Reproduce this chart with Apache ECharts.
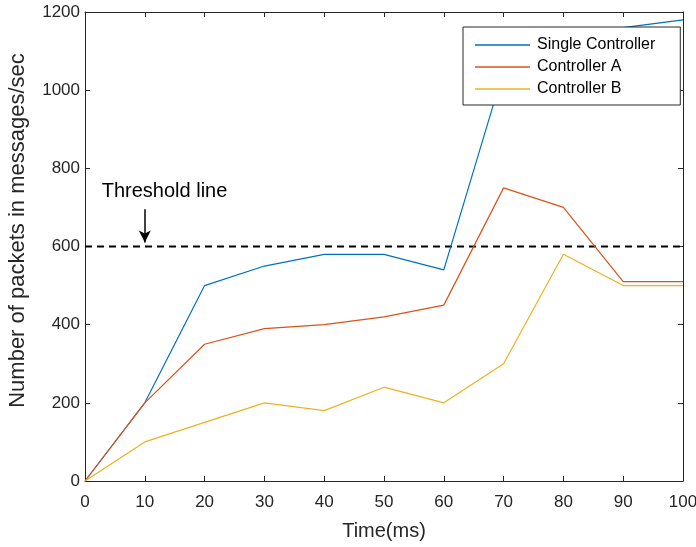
<!DOCTYPE html>
<html>
<head>
<meta charset="utf-8">
<script src="https://cdn.jsdelivr.net/npm/echarts@6/dist/echarts.min.js"></script>
<style>html,body{margin:0;padding:0;background:#fff;}#c{width:696px;height:547px;}</style>
</head>
<body>
<div id="c"></div>
<script>
var times = [0, 10, 20, 30, 40, 50, 60, 70, 80, 90, 100];
var singleController = [0, 200, 500, 550, 580, 580, 540, 1050, 1120, 1160, 1180];
var controllerA = [0, 200, 350, 390, 400, 420, 450, 750, 700, 510, 510];
var controllerB = [0, 100, 150, 200, 180, 240, 200, 300, 580, 500, 500];
var thresholdValue = 600;
var xTicks = [0, 10, 20, 30, 40, 50, 60, 70, 80, 90, 100];
var yTicks = [0, 200, 400, 600, 800, 1000, 1200];

function pairs(xs, ys) { return xs.map(function (x, i) { return [x, ys[i]]; }); }

var font = 'Liberation Sans, Arial, sans-serif';
var axisColor = '#262626';
var chart = echarts.init(document.getElementById('c'), null, { renderer: 'canvas' });

var baseAxis = {
  axisLine: { show: true, onZero: false, lineStyle: { color: axisColor, width: 1 } },
  axisTick: { show: true, inside: true, length: 5, lineStyle: { color: axisColor } },
  splitLine: { show: false }
};

chart.setOption({
  animation: false,
  grid: { left: 85, right: 13, top: 12, bottom: 66, outerBoundsMode: 'none', containLabel: false },
  legend: {
    orient: 'vertical',
    left: 463, top: 27,
    padding: [10, 25, 8, 12],
    itemGap: 6,
    itemWidth: 55,
    itemHeight: 1.5,
    icon: 'rect',
    borderColor: axisColor, borderWidth: 1,
    backgroundColor: '#fff',
    textStyle: { fontFamily: font, fontSize: 16, color: '#000', padding: [0, 0, 0, 2], lineHeight: 16 },
    data: ['Single Controller', 'Controller A', 'Controller B']
  },
  xAxis: [
    Object.assign({}, baseAxis, {
      type: 'value', min: 0, max: 100, interval: 10,
      name: 'Time(ms)', nameLocation: 'middle', nameGap: 40,
      nameTextStyle: { fontFamily: font, fontSize: 20, color: axisColor },
      axisLabel: { fontFamily: font, fontSize: 17, color: axisColor, margin: 13,
        formatter: function (v) { return xTicks.indexOf(v) >= 0 ? String(v) : ''; } }
    }),
    Object.assign({}, baseAxis, {
      type: 'value', min: 0, max: 100, interval: 10, position: 'top',
      axisLabel: { show: false }
    })
  ],
  yAxis: [
    Object.assign({}, baseAxis, {
      type: 'value', min: 0, max: 1200, interval: 200,
      name: 'Number of packets in messages/sec', nameLocation: 'middle', nameGap: 56,
      nameTextStyle: { fontFamily: font, fontSize: 22, color: axisColor, padding: [0, 0, 0, 32] },
      axisLabel: { fontFamily: font, fontSize: 17, color: axisColor, margin: 5,
        formatter: function (v) { return yTicks.indexOf(v) >= 0 ? String(v) : ''; } }
    }),
    Object.assign({}, baseAxis, {
      type: 'value', min: 0, max: 1200, interval: 200, position: 'right',
      axisLabel: { show: false }
    })
  ],
  series: [
    {
      name: 'Threshold', type: 'line', data: [[0, thresholdValue], [100, thresholdValue]],
      symbol: 'none', silent: true,
      lineStyle: { color: '#000', width: 2, type: [7, 5] },
      markLine: {
        silent: true, symbol: ['none', 'arrow'], symbolSize: [9, 12],
        label: { show: false },
        lineStyle: { color: '#000', width: 1.5, type: 'solid' },
        data: [[{ coord: [10, 695] }, { coord: [10, 610] }]]
      },
      markPoint: {
        silent: true, symbol: 'circle', symbolSize: 0,
        label: { show: true, position: 'inside', formatter: 'Threshold line',
          fontFamily: font, fontSize: 20, color: '#000' },
        data: [{ coord: [13.3, 740] }]
      }
    },
    { name: 'Single Controller', type: 'line', data: pairs(times, singleController), symbol: 'none',
      lineStyle: { color: '#0072BD', width: 1.2 }, itemStyle: { color: '#0072BD' } },
    { name: 'Controller A', type: 'line', data: pairs(times, controllerA), symbol: 'none',
      lineStyle: { color: '#D95319', width: 1.2 }, itemStyle: { color: '#D95319' } },
    { name: 'Controller B', type: 'line', data: pairs(times, controllerB), symbol: 'none',
      lineStyle: { color: '#EDB120', width: 1.2 }, itemStyle: { color: '#EDB120' } }
  ]
});
</script>
</body>
</html>
